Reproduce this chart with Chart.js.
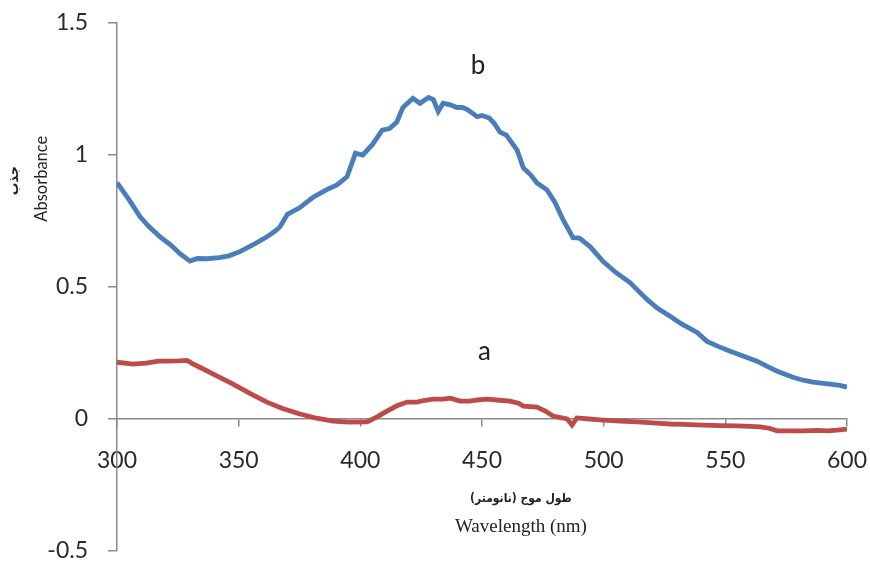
<!DOCTYPE html>
<html>
<head>
<meta charset="utf-8">
<script src="https://cdn.jsdelivr.net/npm/chart.js@4/dist/chart.umd.min.js"></script>
<style>
  html, body { margin: 0; padding: 0; background: #fff; }
  #wrap { width: 870px; height: 561px; position: relative; }
</style>
</head>
<body>
<div id="wrap"><canvas id="c" width="870" height="561"></canvas></div>
<script>
// ---- Data ----
const xTicks = [300, 350, 400, 450, 500, 550, 600];
const yTicks = [-0.5, 0, 0.5, 1, 1.5];

const bWavelength = [300, 305, 309.5, 313, 317.7, 322, 326, 330, 333, 337, 342, 346, 350.5, 356, 361.6, 365, 367, 370, 375, 380.6, 386, 390.4, 394.5, 396, 398, 401, 405, 409, 412, 415, 417.5, 421.6, 424.5, 428, 430, 432, 434, 437, 439.7, 442, 444, 448, 450, 453, 455, 457.4, 460, 462, 464.4, 467, 470, 472.6, 476.7, 480, 483.3, 487.4, 490, 494.4, 499.8, 505, 510.8, 517.8, 522, 527.3, 532, 538.4, 542.5, 547, 552, 557, 563, 567, 571.3, 577.8, 582, 586, 593, 597, 600];
const bAbsorbance = [0.895, 0.83, 0.766, 0.73, 0.69, 0.66, 0.625, 0.598, 0.608, 0.607, 0.611, 0.618, 0.634, 0.66, 0.69, 0.712, 0.728, 0.775, 0.80, 0.84, 0.868, 0.887, 0.917, 0.955, 1.007, 1.0, 1.04, 1.094, 1.10, 1.125, 1.18, 1.215, 1.196, 1.218, 1.21, 1.165, 1.196, 1.19, 1.18, 1.18, 1.172, 1.145, 1.15, 1.14, 1.12, 1.087, 1.075, 1.05, 1.019, 0.951, 0.925, 0.894, 0.868, 0.82, 0.755, 0.687, 0.685, 0.653, 0.596, 0.555, 0.517, 0.453, 0.42, 0.389, 0.36, 0.328, 0.294, 0.275, 0.257, 0.24, 0.219, 0.2, 0.181, 0.158, 0.147, 0.14, 0.132, 0.127, 0.121];

const aWavelength = [300, 306.6, 312, 317, 320.5, 325, 328.8, 331, 334, 340, 347.7, 355, 361.6, 368, 375.2, 382, 388.8, 395, 402.8, 406.9, 410, 415, 419.2, 423.3, 426, 430, 434, 437, 441, 445, 448, 452, 456, 461.5, 465, 467, 472.6, 476, 479.2, 485, 487, 489, 494, 499.7, 507, 513.7, 520, 527.3, 533, 540.8, 548, 554.8, 560, 564.3, 568, 571.3, 576, 582, 588, 592, 596, 600];
const aAbsorbance = [0.215, 0.208, 0.212, 0.219, 0.219, 0.22, 0.222, 0.21, 0.196, 0.168, 0.132, 0.095, 0.064, 0.04, 0.019, 0.003, -0.008, -0.012, -0.011, 0.008, 0.025, 0.05, 0.064, 0.064, 0.07, 0.075, 0.075, 0.079, 0.068, 0.068, 0.072, 0.075, 0.072, 0.068, 0.06, 0.049, 0.045, 0.03, 0.011, 0.0, -0.023, 0.004, 0.0, -0.004, -0.008, -0.011, -0.015, -0.019, -0.02, -0.023, -0.025, -0.026, -0.028, -0.03, -0.035, -0.045, -0.045, -0.045, -0.043, -0.045, -0.042, -0.038];

const seriesLabels = ['a', 'b'];
const labelPositions = [[451, 0.257], [448.4, 1.34]];
const yTitleEn = 'Absorbance';
const yTitleFa = 'جذب';
const xTitleFa = 'طول موج (نانومتر)';
const xTitleEn = 'Wavelength (nm)';

// ---- Build ----
const toPts = (xs, ys) => xs.map((x, i) => ({x: x, y: ys[i]}));

const textPlugin = {
  id: 'texts',
  afterDraw(chart) {
    const ctx = chart.ctx;
    const xs = chart.scales.x, ys = chart.scales.y;
    ctx.save();
    ctx.fillStyle = '#222';
    ctx.textAlign = 'center';
    ctx.textBaseline = 'middle';
    ctx.font = '26px Lato';
    labelPositions.forEach((p, i) => {
      ctx.fillText(seriesLabels[i], xs.getPixelForValue(p[0]), ys.getPixelForValue(p[1]));
    });
    // y titles
    const yc = ys.getPixelForValue(0.91);
    ctx.save();
    ctx.translate(42, yc);
    ctx.rotate(-Math.PI / 2);
    ctx.font = '16.5px Lato';
    ctx.fillText(yTitleEn, 0, 0);
    ctx.restore();
    ctx.save();
    ctx.translate(14, yc + 2);
    ctx.rotate(-Math.PI / 2);
    ctx.font = 'bold 14px "DejaVu Sans Condensed", "DejaVu Sans"';
    ctx.fillText(yTitleFa, 0, 0);
    ctx.restore();
    // x titles
    const xc = xs.getPixelForValue(466);
    ctx.font = 'bold 12px "DejaVu Sans Condensed", "DejaVu Sans"';
    ctx.fillText(xTitleFa, xc, 499);
    ctx.font = '19px "Liberation Serif"';
    ctx.fillText(xTitleEn, xc, 527);
    ctx.restore();
  }
};

new Chart(document.getElementById('c'), {
  type: 'line',
  data: {
    datasets: [
      { label: 'b', data: toPts(bWavelength, bAbsorbance), borderColor: '#4a7ebb', borderWidth: 4.8, pointRadius: 0, tension: 0, fill: false },
      { label: 'a', data: toPts(aWavelength, aAbsorbance), borderColor: '#be4b48', borderWidth: 4.8, pointRadius: 0, tension: 0, fill: false }
    ]
  },
  options: {
    responsive: false,
    animation: false,
    layout: { padding: { left: 0, right: 23, top: 23, bottom: 10 } },
    plugins: { legend: { display: false }, tooltip: { enabled: false }, title: { display: false } },
    scales: {
      x: {
        type: 'linear',
        position: { y: 0 },
        min: xTicks[0], max: xTicks[xTicks.length - 1],
        afterBuildTicks: s => { s.ticks = xTicks.map(v => ({value: v})); },
        afterFit: s => { s.paddingLeft = 0; s.paddingRight = 0; },
        grid: { drawOnChartArea: false, drawTicks: true, tickLength: 7, color: '#8a8a8a', lineWidth: 1.5 },
        border: { color: '#8a8a8a', width: 1.5 },
        ticks: { color: '#2a2a2a', font: { family: 'Lato', size: 23 }, padding: 21, maxRotation: 0, autoSkip: false, callback: v => String(v) }
      },
      y: {
        type: 'linear',
        position: 'left',
        min: yTicks[0], max: yTicks[yTicks.length - 1],
        afterBuildTicks: s => { s.ticks = yTicks.map(v => ({value: v})); },
        afterFit: s => { s.width = 117; s.paddingTop = 0; s.paddingBottom = 0; },
        grid: { drawOnChartArea: false, drawTicks: true, tickLength: 9, color: '#8a8a8a', lineWidth: 1.5 },
        border: { color: '#8a8a8a', width: 1.5 },
        ticks: { color: '#2a2a2a', font: { family: 'Lato', size: 23 }, padding: 20, callback: v => String(v) }
      }
    }
  },
  plugins: [textPlugin]
});
</script>
</body>
</html>
